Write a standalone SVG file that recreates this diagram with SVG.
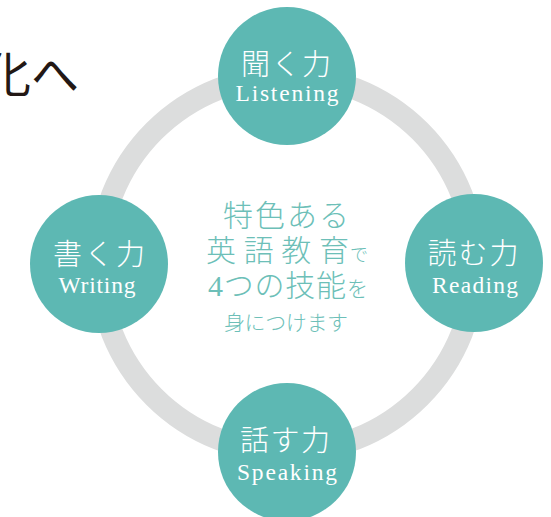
<svg xmlns="http://www.w3.org/2000/svg" width="551" height="517" viewBox="0 0 551 517">
<style>
.ring{fill:none;stroke:#dcdddd;stroke-width:22}
.node{fill:#5db8b3}
.jp{font-family:"Liberation Serif","Noto Sans CJK JP",serif;fill:#ffffff;font-size:29px;font-weight:300;text-anchor:middle}
.en{font-family:"Liberation Serif","Noto Sans CJK JP",serif;fill:#ffffff;font-size:23.5px;text-anchor:middle}
.ctr{font-family:"Liberation Serif","Noto Sans CJK JP",serif;fill:#6dbfb8;font-weight:300}
.head{font-family:"Liberation Serif","Noto Sans CJK JP",serif;fill:#231815;font-size:48px;font-weight:400}
</style>
<rect width="551" height="517" fill="#ffffff"/>
<text class="head" x="-17" y="92">化へ</text>
<g id="connectors">
<circle class="ring" cx="287" cy="264" r="188"/>
</g>
<g id="center">
<text class="ctr" x="223" y="226" font-size="30" textLength="126" lengthAdjust="spacing">特色ある</text>
<text class="ctr" x="206" y="261" font-size="30" textLength="143" lengthAdjust="spacing">英語教育</text>
<text class="ctr" x="350" y="261" font-size="18">で</text>
<text class="ctr" x="208" y="296" font-size="30" textLength="138" lengthAdjust="spacing">4つの技能</text>
<text class="ctr" x="347" y="296" font-size="21">を</text>
<text class="ctr" x="224" y="330" font-size="21" textLength="124" lengthAdjust="spacing">身につけます</text>
</g>
<g id="listening">
<circle class="node" cx="287" cy="76" r="69"/>
<text class="jp" x="286" y="75" textLength="90" lengthAdjust="spacing">聞く力</text>
<text class="en" x="287" y="101" textLength="103" lengthAdjust="spacing">Listening</text>
</g>
<g id="writing">
<circle class="node" cx="99" cy="264" r="69"/>
<text class="jp" x="99" y="265" textLength="92" lengthAdjust="spacing">書く力</text>
<text class="en" x="97" y="293" textLength="77" lengthAdjust="spacing">Writing</text>
</g>
<g id="reading">
<circle class="node" cx="474" cy="263" r="69"/>
<text class="jp" x="473" y="264" textLength="91" lengthAdjust="spacing">読む力</text>
<text class="en" x="475" y="293" textLength="86" lengthAdjust="spacing">Reading</text>
</g>
<g id="speaking">
<circle class="node" cx="287" cy="452" r="69"/>
<text class="jp" x="285" y="451" textLength="90" lengthAdjust="spacing">話す力</text>
<text class="en" x="287" y="480" textLength="100" lengthAdjust="spacing">Speaking</text>
</g>
</svg>
